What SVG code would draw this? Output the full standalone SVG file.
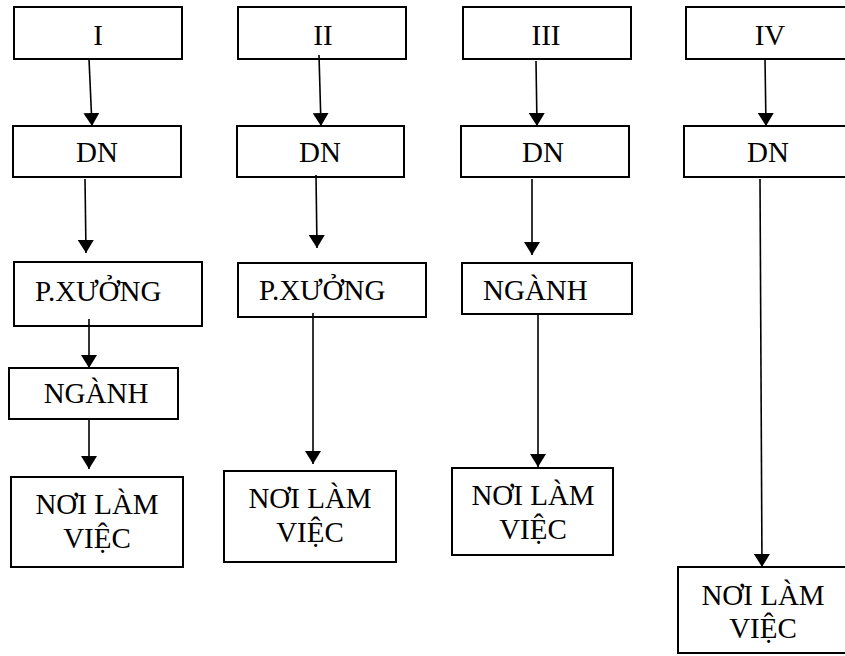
<svg xmlns="http://www.w3.org/2000/svg" width="845" height="656" viewBox="0 0 845 656">
  <style>
    .box { fill: #ffffff; stroke: #000000; stroke-width: 2; }
    .lbl { font-family: "Liberation Serif", "Times New Roman", serif; font-size: 29px; fill: #000000; }
    .mid { text-anchor: middle; }
    .conn { stroke: #000000; stroke-width: 1.6; fill: none; marker-end: url(#head); }
  </style>
  <defs>
    <!-- solid triangular arrowhead, tip at the line end -->
    <marker id="head" markerUnits="userSpaceOnUse" viewBox="0 0 13 16" markerWidth="13" markerHeight="16" refX="13" refY="8" orient="auto">
      <path d="M0,0 L13,8 L0,16 Z" fill="#000000"/>
    </marker>
  </defs>
  <rect width="845" height="656" fill="#ffffff"/>

  <!-- column I -->
  <g id="c1-top"><rect class="box" x="14" y="7" width="168" height="52"/><text class="lbl mid" x="98" y="45">I</text></g>
  <g id="c1-dn"><rect class="box" x="13" y="126" width="168" height="51"/><text class="lbl mid" x="97" y="162">DN</text></g>
  <g id="c1-px"><rect class="box" x="14" y="262" width="188" height="64"/><text class="lbl" x="35" y="301">P.XƯỞNG</text></g>
  <g id="c1-nganh"><rect class="box" x="9" y="368" width="169" height="51"/><text class="lbl mid" x="96" y="403">NGÀNH</text></g>
  <g id="c1-nlv"><rect class="box" x="11" y="477" width="172" height="90"/><text class="lbl mid" x="97" y="514">NƠI LÀM</text><text class="lbl mid" x="97" y="548">VIỆC</text></g>

  <!-- column II -->
  <g id="c2-top"><rect class="box" x="238" y="7" width="168" height="52"/><text class="lbl mid" x="323" y="45">II</text></g>
  <g id="c2-dn"><rect class="box" x="237" y="126" width="167" height="51"/><text class="lbl mid" x="320" y="162">DN</text></g>
  <g id="c2-px"><rect class="box" x="238" y="263" width="188" height="54"/><text class="lbl" x="259" y="300">P.XƯỞNG</text></g>
  <g id="c2-nlv"><rect class="box" x="224" y="471" width="172" height="91"/><text class="lbl mid" x="310" y="508">NƠI LÀM</text><text class="lbl mid" x="310" y="542">VIỆC</text></g>

  <!-- column III -->
  <g id="c3-top"><rect class="box" x="463" y="7" width="168" height="52"/><text class="lbl mid" x="546" y="45">III</text></g>
  <g id="c3-dn"><rect class="box" x="461" y="126" width="168" height="51"/><text class="lbl mid" x="543" y="162">DN</text></g>
  <g id="c3-nganh"><rect class="box" x="462" y="263" width="170" height="51"/><text class="lbl" x="483" y="300">NGÀNH</text></g>
  <g id="c3-nlv"><rect class="box" x="452" y="468" width="161" height="87"/><text class="lbl mid" x="533" y="505">NƠI LÀM</text><text class="lbl mid" x="533" y="539">VIỆC</text></g>

  <!-- column IV (boxes run past the right edge) -->
  <g id="c4-top"><rect class="box" x="686" y="7" width="170" height="52"/><text class="lbl mid" x="770" y="45">IV</text></g>
  <g id="c4-dn"><rect class="box" x="684" y="126" width="172" height="51"/><text class="lbl mid" x="768" y="162">DN</text></g>
  <g id="c4-nlv"><rect class="box" x="678" y="567" width="178" height="86"/><text class="lbl mid" x="763" y="605">NƠI LÀM</text><text class="lbl mid" x="763" y="638">VIỆC</text></g>

  <!-- connectors -->
  <g id="connectors">
    <line class="conn" x1="89" y1="59" x2="92" y2="126"/>
    <line class="conn" x1="85" y1="179" x2="86" y2="253"/>
    <line class="conn" x1="89" y1="319" x2="89" y2="368"/>
    <line class="conn" x1="89" y1="419" x2="89" y2="469"/>

    <line class="conn" x1="319" y1="55" x2="321" y2="126"/>
    <line class="conn" x1="316" y1="175" x2="317" y2="248"/>
    <line class="conn" x1="313" y1="313" x2="313" y2="464"/>

    <line class="conn" x1="536" y1="61" x2="537" y2="126"/>
    <line class="conn" x1="532" y1="179" x2="532" y2="255"/>
    <line class="conn" x1="538" y1="314" x2="538" y2="467"/>

    <line class="conn" x1="765" y1="59" x2="766" y2="126"/>
    <line class="conn" x1="760" y1="179" x2="762" y2="567"/>
  </g>
</svg>
